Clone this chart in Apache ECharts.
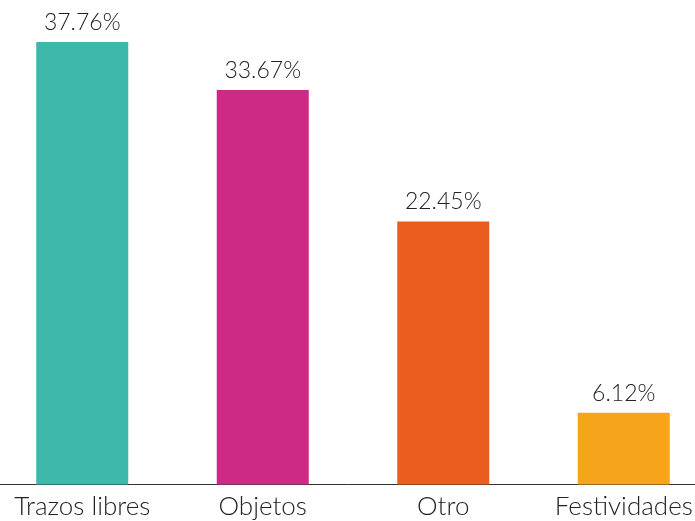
<!DOCTYPE html>
<html>
<head>
<meta charset="utf-8">
<script src="https://cdn.jsdelivr.net/npm/echarts@6/dist/echarts.min.js"></script>
<style>
  html, body { margin: 0; padding: 0; background: #fff; }
  #chart { width: 695px; height: 521px; }
</style>
</head>
<body>
<div id="chart"></div>
<script>
const categories = ['Trazos libres', 'Objetos', 'Otro', 'Festividades']
const values = [37.76, 33.67, 22.45, 6.12]
const colors = ['#3eb8aa', '#cc2a84', '#eb5c1f', '#f6a51b']

const myChart = echarts.init(document.getElementById('chart'))

const option = {
  animation: false,
  grid: { left: -8, width: 722, top: 15.7, height: 468.8, outerBoundsMode: 'none' },
  xAxis: {
    type: 'category',
    data: categories,
    axisLine: { lineStyle: { color: '#333', width: 1 } },
    axisTick: { show: false },
    axisLabel: {
      color: '#222',
      fontFamily: 'Lato',
      fontWeight: 300,
      fontSize: 26,
      margin: 9,
      interval: 0
    }
  },
  yAxis: {
    type: 'value',
    min: 0,
    max: 40,
    show: false,
    splitLine: { show: false }
  },
  series: [{
    type: 'bar',
    barWidth: 92,
    data: values.map((v, i) => ({ value: v, itemStyle: { color: colors[i] } })),
    label: {
      show: true,
      position: 'top',
      distance: 8,
      color: '#222',
      fontFamily: 'Lato',
      fontWeight: 300,
      fontSize: 23,
      formatter: (p) => p.value.toFixed(2) + '%'
    }
  }]
}

myChart.setOption(option)
</script>
</body>
</html>
